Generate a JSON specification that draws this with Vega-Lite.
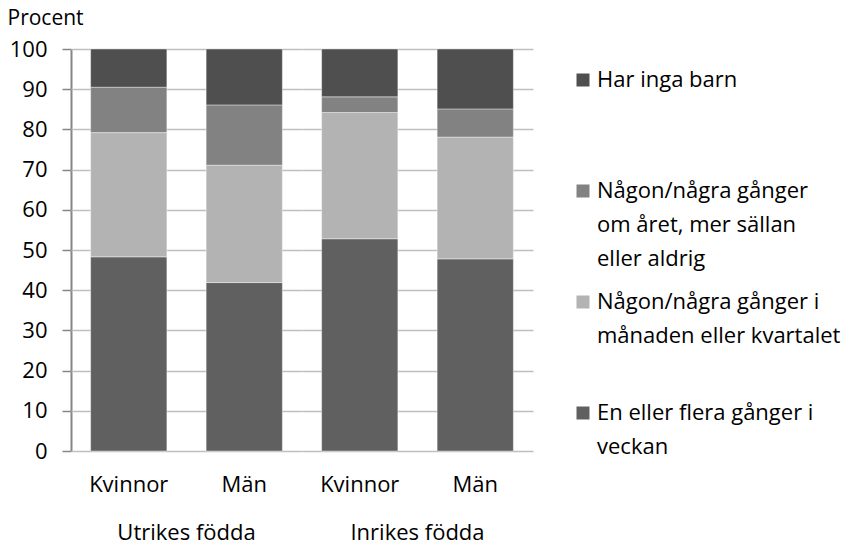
{
  "$schema": "https://vega.github.io/schema/vega-lite/v6.json",
  "padding": {"left": 7, "top": 7, "right": 5, "bottom": 0},
  "background": "white",
  "config": {
    "font": "Open Sans",
    "view": {"stroke": null},
    "style": {"guide-label": {"lineHeight": 34}},
    "axis": {"labelColor": "#000", "labelFont": "Open Sans", "titleFont": "Open Sans", "labelLineHeight": 24}
  },
  "data": {
    "values": [
      {"grupp": "Utrikes födda", "kon": "Kvinnor", "kategori": "En eller flera gånger i veckan", "procent": 48.3},
      {"grupp": "Utrikes födda", "kon": "Kvinnor", "kategori": "Någon/några gånger i månaden eller kvartalet", "procent": 30.9},
      {"grupp": "Utrikes födda", "kon": "Kvinnor", "kategori": "Någon/några gånger om året, mer sällan eller aldrig", "procent": 11.3},
      {"grupp": "Utrikes födda", "kon": "Kvinnor", "kategori": "Har inga barn", "procent": 9.5},
      {"grupp": "Utrikes födda", "kon": "Män", "kategori": "En eller flera gånger i veckan", "procent": 41.9},
      {"grupp": "Utrikes födda", "kon": "Män", "kategori": "Någon/några gånger i månaden eller kvartalet", "procent": 29.2},
      {"grupp": "Utrikes födda", "kon": "Män", "kategori": "Någon/några gånger om året, mer sällan eller aldrig", "procent": 15.0},
      {"grupp": "Utrikes födda", "kon": "Män", "kategori": "Har inga barn", "procent": 13.9},
      {"grupp": "Inrikes födda", "kon": "Kvinnor", "kategori": "En eller flera gånger i veckan", "procent": 52.8},
      {"grupp": "Inrikes födda", "kon": "Kvinnor", "kategori": "Någon/några gånger i månaden eller kvartalet", "procent": 31.4},
      {"grupp": "Inrikes födda", "kon": "Kvinnor", "kategori": "Någon/några gånger om året, mer sällan eller aldrig", "procent": 3.9},
      {"grupp": "Inrikes födda", "kon": "Kvinnor", "kategori": "Har inga barn", "procent": 11.9},
      {"grupp": "Inrikes födda", "kon": "Män", "kategori": "En eller flera gånger i veckan", "procent": 47.8},
      {"grupp": "Inrikes födda", "kon": "Män", "kategori": "Någon/några gånger i månaden eller kvartalet", "procent": 30.3},
      {"grupp": "Inrikes födda", "kon": "Män", "kategori": "Någon/några gånger om året, mer sällan eller aldrig", "procent": 7.0},
      {"grupp": "Inrikes födda", "kon": "Män", "kategori": "Har inga barn", "procent": 14.9}
    ]
  },
  "transform": [
    {"calculate": "indexof(['En eller flera gånger i veckan','Någon/några gånger i månaden eller kvartalet','Någon/några gånger om året, mer sällan eller aldrig','Har inga barn'], datum.kategori)", "as": "ordning"}
  ],
  "facet": {
    "column": {
      "field": "grupp",
      "type": "nominal",
      "sort": ["Utrikes födda", "Inrikes födda"],
      "header": {
        "title": null,
        "labelOrient": "bottom",
        "labelFont": "Open Sans",
        "labelFontSize": 22,
        "labelLineHeight": 22,
        "labelColor": "#000",
        "labelPadding": 28
      }
    }
  },
  "spacing": 0,
  "spec": {
    "width": 231,
    "height": 402,
    "mark": {"type": "bar", "stroke": "#ffffff", "strokeWidth": 0.4},
    "encoding": {
      "x": {
        "field": "kon",
        "type": "nominal",
        "sort": ["Kvinnor", "Män"],
        "scale": {"paddingInner": 0.34, "paddingOuter": 0.17},
        "axis": {
          "title": null,
          "labelAngle": 0,
          "ticks": false,
          "domain": false,
          "labelFontSize": 22,
          "labelPadding": 22
        }
      },
      "y": {
        "field": "procent",
        "type": "quantitative",
        "stack": "zero",
        "scale": {"domain": [0, 100], "nice": false},
        "axis": {
          "title": "Procent",
          "titleAngle": 0,
          "titleAlign": "left",
          "titleBaseline": "middle",
          "titleX": -64,
          "titleY": -31,
          "titleFontSize": 21,
          "titleFontWeight": "normal",
          "titleColor": "#000",
          "values": [0, 10, 20, 30, 40, 50, 60, 70, 80, 90, 100],
          "labelFontSize": 22,
          "labelPadding": 15,
          "tickSize": 9,
          "tickColor": "#868686",
          "tickWidth": 1.5,
          "domainColor": "#868686",
          "domainWidth": 2,
          "gridColor": "#bfbfbf",
          "gridWidth": 1.5
        }
      },
      "order": {"field": "ordning", "type": "quantitative", "sort": "ascending"},
      "color": {
        "field": "kategori",
        "type": "nominal",
        "scale": {
          "domain": [
            "En eller flera gånger i veckan",
            "Någon/några gånger i månaden eller kvartalet",
            "Någon/några gånger om året, mer sällan eller aldrig",
            "Har inga barn"
          ],
          "range": ["#606060", "#b3b3b3", "#828282", "#4f4f4f"]
        },
        "legend": {
          "title": null,
          "orient": "none",
          "legendX": 501,
          "legendY": 20,
          "values": [
            "Har inga barn",
            "Någon/några gånger om året, mer sällan eller aldrig",
            "Någon/några gånger i månaden eller kvartalet",
            "En eller flera gånger i veckan"
          ],
          "symbolType": "square",
          "symbolSize": 169,
          "symbolStrokeWidth": 0,
          "symbolOpacity": 1,
          "labelFont": "Open Sans",
          "labelFontSize": 22,
          "labelColor": "#000",
          "labelOffset": 3,
          "labelLimit": 400,
          "labelBaseline": "middle",
          "rowPadding": 21,
          "labelExpr": "datum.label == 'Har inga barn' ? ['Har inga barn','',''] : datum.label == 'Någon/några gånger om året, mer sällan eller aldrig' ? ['Någon/några gånger','om året, mer sällan','eller aldrig'] : datum.label == 'Någon/några gånger i månaden eller kvartalet' ? ['Någon/några gånger i','månaden eller kvartalet',''] : ['En eller flera gånger i','veckan','']"
        }
      }
    }
  }
}
